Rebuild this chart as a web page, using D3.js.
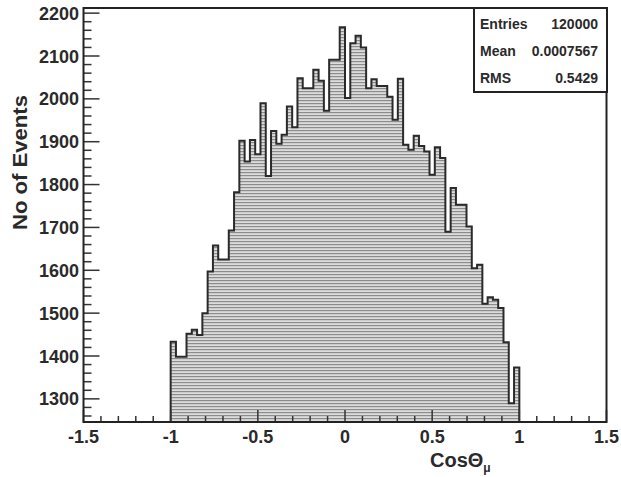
<!DOCTYPE html>
<html>
<head>
<meta charset="utf-8">
<script src="https://cdn.jsdelivr.net/npm/d3@7"></script>
<style>
  body { margin: 0; background: #fff; }
  svg { display: block; font-family: "Liberation Sans", Arial, sans-serif; font-weight: bold; }
</style>
</head>
<body>
<svg id="chart" width="621" height="477"></svg>
<script>
// histogram: 66 bins between -1 and 1
var binRange = [-1, 1];
var binValues = [
  1433, 1398, 1398, 1452, 1461, 1449, 1500, 1597, 1658, 1625, 1625,
  1693, 1782, 1902, 1854, 1904, 1871, 1990, 1820, 1925, 1895, 1916,
  1982, 1934, 2048, 2025, 2025, 2068, 2042, 1972, 2091, 2091, 2167,
  2002, 2130, 2147, 2120, 2025, 2046, 2030, 2030, 2005, 1951, 2047,
  1893, 1881, 1914, 1890, 1877, 1823, 1887, 1862, 1690, 1792, 1753,
  1753, 1702, 1605, 1613, 1522, 1537, 1531, 1512, 1432, 1290, 1373
];

var xDomain = [-1.5, 1.5];
var yDomain = [1246, 2212];
var xTickLabels = [-1.5, -1, -0.5, 0, 0.5, 1, 1.5];
var yTickLabels = [1300, 1400, 1500, 1600, 1700, 1800, 1900, 2000, 2100, 2200];

var statNames = ["Entries", "Mean", "RMS"];
var statValues = ["120000", "0.0007567", "0.5429"];

var svg = d3.select("#chart");

var x = d3.scaleLinear().domain(xDomain).range([83.5, 606.5]);
var y = d3.scaleLinear().domain(yDomain).range([422, 8]);

// horizontal hatch fill
var defs = svg.append("defs");
var pat = defs.append("pattern")
    .attr("id", "hatch")
    .attr("patternUnits", "userSpaceOnUse")
    .attr("width", 8).attr("height", 3);
pat.append("rect").attr("width", 8).attr("height", 3).attr("fill", "#dcdcdc");
pat.append("rect").attr("y", 1).attr("width", 8).attr("height", 1.2).attr("fill", "#8c8c8c");

var nb = binValues.length;
var edges = d3.range(nb + 1).map(function(i) {
    return binRange[0] + (binRange[1] - binRange[0]) * i / nb;
});

var pts = [];
binValues.forEach(function(v, i) {
    pts.push([edges[i], v]);
    pts.push([edges[i + 1], v]);
});

var area = d3.area()
    .x(function(d) { return x(d[0]); })
    .y0(y(yDomain[0]))
    .y1(function(d) { return y(d[1]); });

svg.append("path")
    .datum(pts)
    .attr("d", area)
    .attr("fill", "url(#hatch)");

var line = d3.line()
    .x(function(d) { return x(d[0]); })
    .y(function(d) { return y(d[1]); });

var outline = [[binRange[0], yDomain[0]]].concat(pts).concat([[binRange[1], yDomain[0]]]);
svg.append("path")
    .datum(outline)
    .attr("d", line)
    .attr("fill", "none")
    .attr("stroke", "#2a2a2a")
    .attr("stroke-width", 2);

// ticks (ROOT style, inside the frame)
var tickColor = "#333";
var xMinor = d3.range(-15, 16).map(function(k) { return k / 10; });
svg.append("g").selectAll("line")
    .data(xMinor)
    .enter().append("line")
    .attr("x1", function(d) { return x(d); })
    .attr("x2", function(d) { return x(d); })
    .attr("y1", y(yDomain[0]))
    .attr("y2", function(d) { return y(yDomain[0]) - (xTickLabels.indexOf(d) >= 0 ? 12 : 6); })
    .attr("stroke", tickColor)
    .attr("stroke-width", 1.5);

var yMinor = d3.range(1260, 2201, 20);
svg.append("g").selectAll("line")
    .data(yMinor)
    .enter().append("line")
    .attr("x1", x(xDomain[0]))
    .attr("x2", function(d) { return x(xDomain[0]) + (d % 100 == 0 ? 16 : 8); })
    .attr("y1", function(d) { return y(d); })
    .attr("y2", function(d) { return y(d); })
    .attr("stroke", tickColor)
    .attr("stroke-width", 1.5);

// frame
svg.append("rect")
    .attr("x", x(xDomain[0])).attr("y", y(yDomain[1]))
    .attr("width", x(xDomain[1]) - x(xDomain[0]))
    .attr("height", y(yDomain[0]) - y(yDomain[1]))
    .attr("fill", "none")
    .attr("stroke", "#222")
    .attr("stroke-width", 2);

// tick labels
svg.append("g").selectAll("text")
    .data(xTickLabels)
    .enter().append("text")
    .attr("x", function(d) { return x(d); })
    .attr("y", 443)
    .attr("text-anchor", "middle")
    .attr("font-size", 18)
    .attr("fill", "#2a2a2a")
    .text(function(d) { return d; });

svg.append("g").selectAll("text")
    .data(yTickLabels)
    .enter().append("text")
    .attr("x", 79)
    .attr("y", function(d) { return y(d) + 6.5; })
    .attr("text-anchor", "end")
    .attr("font-size", 18)
    .attr("fill", "#2a2a2a")
    .text(function(d) { return d; });

// axis titles
var xt = svg.append("text")
    .attr("x", 430).attr("y", 467)
    .attr("font-size", 20)
    .attr("fill", "#2a2a2a");
xt.append("tspan").text("Cos\u0398");
xt.append("tspan").attr("font-size", 12).attr("dy", 5).text("\u03bc");

svg.append("text")
    .attr("transform", "translate(27,230) rotate(-90)")
    .attr("font-size", 20)
    .attr("textLength", 135)
    .attr("lengthAdjust", "spacingAndGlyphs")
    .attr("fill", "#2a2a2a")
    .text("No of Events");

// stats box
var box = svg.append("g");
box.append("rect")
    .attr("x", 474).attr("y", 8)
    .attr("width", 133).attr("height", 84)
    .attr("fill", "#fff")
    .attr("stroke", "#222")
    .attr("stroke-width", 2);
statNames.forEach(function(n, i) {
    box.append("text")
        .attr("x", 480).attr("y", 29 + i * 27)
        .attr("font-size", 14)
        .attr("fill", "#2a2a2a")
        .text(n);
    box.append("text")
        .attr("x", 598).attr("y", 29 + i * 27)
        .attr("text-anchor", "end")
        .attr("font-size", 14)
        .attr("fill", "#2a2a2a")
        .text(statValues[i]);
});
</script>
</body>
</html>
